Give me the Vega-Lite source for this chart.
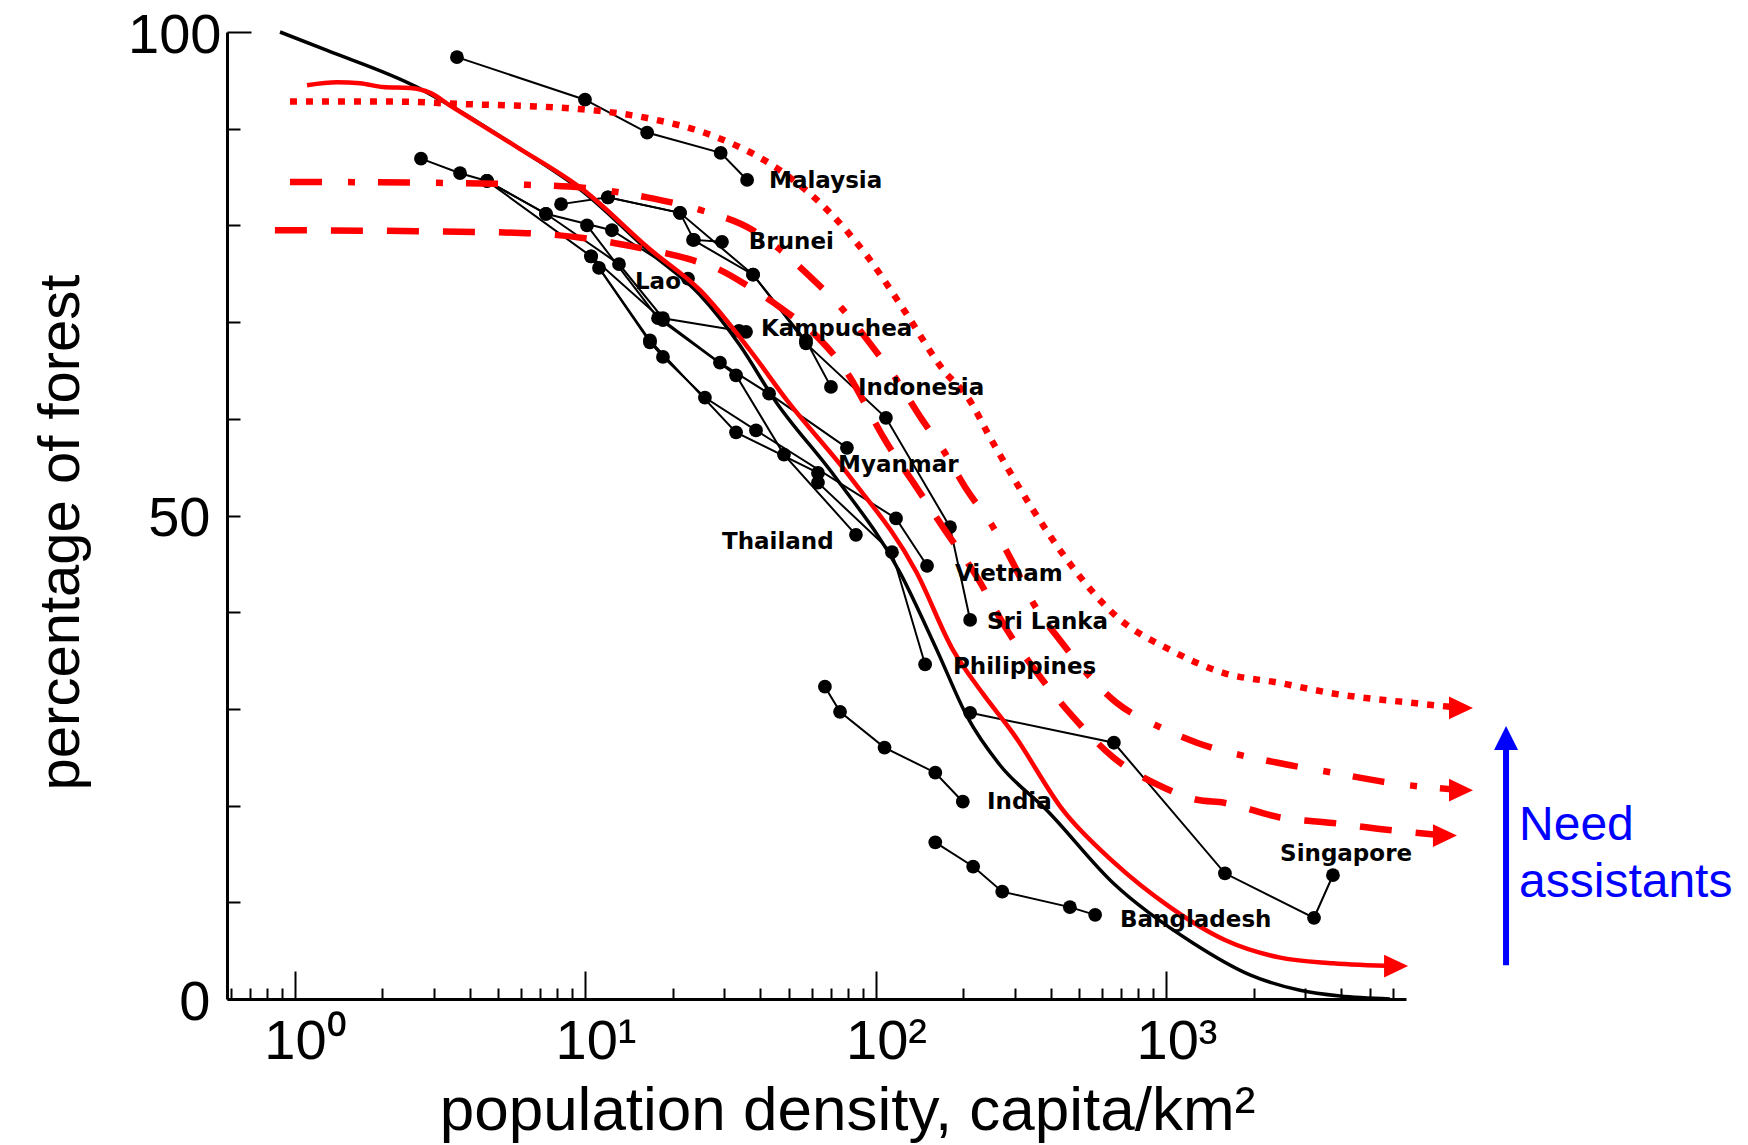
{
  "$schema": "https://vega.github.io/schema/vega-lite/v6.json",
  "width": 1179,
  "height": 967,
  "autosize": {"type": "none"},
  "padding": {"left": 227, "top": 32, "right": 342, "bottom": 146},
  "background": "white",
  "config": {"view": {"stroke": null}, "font": "Liberation Sans"},
  "datasets": {
    "theory": [
      {"x": 0.888, "y": 100.0}, {"x": 1.29, "y": 98.1}, {"x": 2.63, "y": 94.3}, {"x": 3.42, "y": 92.4},
      {"x": 5.81, "y": 88.1}, {"x": 9.8, "y": 83.5}, {"x": 16.7, "y": 77.2}, {"x": 24.8, "y": 72.8},
      {"x": 34.0, "y": 67.6}, {"x": 44.9, "y": 61.9}, {"x": 72.3, "y": 54.0}, {"x": 121, "y": 44.1},
      {"x": 162, "y": 36.1}, {"x": 206, "y": 29.2}, {"x": 267, "y": 24.2}, {"x": 388, "y": 19.5},
      {"x": 655, "y": 12.0}, {"x": 1233, "y": 5.8}, {"x": 1938, "y": 2.5}, {"x": 2882, "y": 0.9},
      {"x": 3954, "y": 0.3}, {"x": 5878, "y": 0}
    ],
    "redsolid": [
      {"x": 1.1, "y": 94.5}, {"x": 1.395, "y": 94.8}, {"x": 1.674, "y": 94.7}, {"x": 2.01, "y": 94.3},
      {"x": 2.49, "y": 94.2}, {"x": 2.92, "y": 93.7}, {"x": 3.42, "y": 92.4}, {"x": 5.81, "y": 88.1},
      {"x": 9.8, "y": 83.7}, {"x": 16.7, "y": 77.5}, {"x": 24.8, "y": 73.3}, {"x": 36.8, "y": 67.1},
      {"x": 49.4, "y": 61.9}, {"x": 81.4, "y": 54.0}, {"x": 138, "y": 44.1}, {"x": 184, "y": 36.1},
      {"x": 233, "y": 31.6}, {"x": 296, "y": 27.5}, {"x": 441, "y": 19.5}, {"x": 655, "y": 14.2},
      {"x": 1028, "y": 9.5}, {"x": 1589, "y": 6.1}, {"x": 2438, "y": 4.3}, {"x": 3741, "y": 3.7},
      {"x": 6170, "y": 3.4}
    ],
    "dotted": [
      {"x": 0.961, "y": 92.8}, {"x": 2.3, "y": 92.8}, {"x": 3.42, "y": 92.6}, {"x": 9.8, "y": 92.0},
      {"x": 16.3, "y": 91.1}, {"x": 28.4, "y": 89.1}, {"x": 46.7, "y": 85.7}, {"x": 69.5, "y": 81.3},
      {"x": 93.9, "y": 76.7}, {"x": 127, "y": 70.9}, {"x": 171, "y": 65.0}, {"x": 206, "y": 62.3},
      {"x": 253, "y": 57.5}, {"x": 347, "y": 50.6}, {"x": 455, "y": 45.4}, {"x": 676, "y": 39.5},
      {"x": 1029, "y": 36.1}, {"x": 1578, "y": 33.7}, {"x": 2440, "y": 32.7}, {"x": 3741, "y": 31.6},
      {"x": 7115, "y": 30.6}, {"x": 10320, "y": 30.1}
    ],
    "dashdot": [
      {"x": 0.961, "y": 84.5}, {"x": 3.08, "y": 84.4}, {"x": 6.29, "y": 84.2}, {"x": 9.8, "y": 83.9},
      {"x": 16.3, "y": 82.9}, {"x": 24.8, "y": 81.6}, {"x": 37.7, "y": 79.5}, {"x": 46.7, "y": 77.5},
      {"x": 59.3, "y": 74.7}, {"x": 76.9, "y": 71.3}, {"x": 95.3, "y": 67.8}, {"x": 118, "y": 64.0},
      {"x": 142, "y": 60.2}, {"x": 170, "y": 56.8}, {"x": 206, "y": 52.6}, {"x": 253, "y": 48.8},
      {"x": 296, "y": 45.1}, {"x": 347, "y": 41.0}, {"x": 430, "y": 37.1}, {"x": 676, "y": 30.6},
      {"x": 950, "y": 28.1}, {"x": 1273, "y": 26.5}, {"x": 2440, "y": 24.4}, {"x": 3741, "y": 23.4},
      {"x": 5741, "y": 22.4}, {"x": 10320, "y": 21.6}
    ],
    "dashed": [
      {"x": 0.853, "y": 79.5}, {"x": 2.63, "y": 79.4}, {"x": 6.29, "y": 79.2}, {"x": 9.8, "y": 78.7},
      {"x": 14.6, "y": 77.8}, {"x": 23.4, "y": 76.4}, {"x": 29.0, "y": 75.4}, {"x": 36.8, "y": 73.6},
      {"x": 47.9, "y": 71.3}, {"x": 62.7, "y": 68.5}, {"x": 81.4, "y": 64.3}, {"x": 95.3, "y": 60.6},
      {"x": 106, "y": 58.1}, {"x": 138, "y": 52.9}, {"x": 170, "y": 48.8}, {"x": 223, "y": 43.6},
      {"x": 282, "y": 38.2}, {"x": 353, "y": 34.0}, {"x": 476, "y": 29.2}, {"x": 655, "y": 25.0},
      {"x": 973, "y": 21.9}, {"x": 1273, "y": 20.6}, {"x": 1578, "y": 20.3}, {"x": 2440, "y": 18.8},
      {"x": 3741, "y": 18.2}, {"x": 5741, "y": 17.5}, {"x": 9090, "y": 16.9}
    ],
    "heads": [
      {"x": 10320, "y": 30.1}, {"x": 10320, "y": 21.6}, {"x": 9090, "y": 16.9}, {"x": 6170, "y": 3.4}
    ],
    "countries": [
      {"c": "Malaysia", "i": 0, "x": 3.61, "y": 97.4}, {"c": "Malaysia", "i": 1, "x": 9.96, "y": 93.0},
      {"c": "Malaysia", "i": 2, "x": 16.3, "y": 89.6}, {"c": "Malaysia", "i": 3, "x": 29.2, "y": 87.5},
      {"c": "Malaysia", "i": 4, "x": 36.0, "y": 84.7},
      {"c": "Laos", "i": 0, "x": 2.715, "y": 86.9}, {"c": "Laos", "i": 1, "x": 3.7, "y": 85.4},
      {"c": "Laos", "i": 2, "x": 4.58, "y": 84.6}, {"c": "Laos", "i": 3, "x": 7.31, "y": 81.2},
      {"c": "Laos", "i": 4, "x": 12.33, "y": 79.5}, {"c": "Laos", "i": 5, "x": 22.53, "y": 74.5},
      {"c": "Brunei", "i": 0, "x": 8.24, "y": 82.2}, {"c": "Brunei", "i": 1, "x": 11.95, "y": 82.9},
      {"c": "Brunei", "i": 2, "x": 21.15, "y": 81.3}, {"c": "Brunei", "i": 3, "x": 23.62, "y": 78.5},
      {"c": "Brunei", "i": 4, "x": 29.5, "y": 78.3},
      {"c": "Kampuchea", "i": 0, "x": 4.58, "y": 84.6}, {"c": "Kampuchea", "i": 1, "x": 7.31, "y": 81.2},
      {"c": "Kampuchea", "i": 2, "x": 13.04, "y": 76.0}, {"c": "Kampuchea", "i": 3, "x": 18.48, "y": 70.4},
      {"c": "Kampuchea", "i": 4, "x": 33.75, "y": 69.1}, {"c": "Kampuchea", "i": 5, "x": 35.7, "y": 69.0},
      {"c": "Indonesia", "i": 0, "x": 11.95, "y": 82.9}, {"c": "Indonesia", "i": 1, "x": 21.15, "y": 81.3},
      {"c": "Indonesia", "i": 2, "x": 37.74, "y": 74.9}, {"c": "Indonesia", "i": 3, "x": 57.41, "y": 68.1},
      {"c": "Indonesia", "i": 4, "x": 69.98, "y": 63.3},
      {"c": "Sri Lanka", "i": 0, "x": 23.45, "y": 78.5}, {"c": "Sri Lanka", "i": 1, "x": 37.74, "y": 74.9},
      {"c": "Sri Lanka", "i": 2, "x": 57.41, "y": 67.8}, {"c": "Sri Lanka", "i": 3, "x": 108.2, "y": 60.1},
      {"c": "Sri Lanka", "i": 4, "x": 179.8, "y": 48.8}, {"c": "Sri Lanka", "i": 5, "x": 210.9, "y": 39.2},
      {"c": "Myanmar", "i": 0, "x": 4.58, "y": 84.6}, {"c": "Myanmar", "i": 1, "x": 10.45, "y": 76.8},
      {"c": "Myanmar", "i": 2, "x": 18.48, "y": 70.2}, {"c": "Myanmar", "i": 3, "x": 29.03, "y": 65.8},
      {"c": "Myanmar", "i": 4, "x": 42.85, "y": 62.6}, {"c": "Myanmar", "i": 5, "x": 79.43, "y": 57.0},
      {"c": "Vietnam", "i": 0, "x": 11.13, "y": 75.6}, {"c": "Vietnam", "i": 1, "x": 16.67, "y": 67.9},
      {"c": "Vietnam", "i": 2, "x": 18.48, "y": 66.4}, {"c": "Vietnam", "i": 3, "x": 25.77, "y": 62.2},
      {"c": "Vietnam", "i": 4, "x": 38.63, "y": 58.8}, {"c": "Vietnam", "i": 5, "x": 117.2, "y": 49.7},
      {"c": "Vietnam", "i": 6, "x": 149.9, "y": 44.8},
      {"c": "Thailand", "i": 0, "x": 10.12, "y": 80.0}, {"c": "Thailand", "i": 1, "x": 17.77, "y": 70.4},
      {"c": "Thailand", "i": 2, "x": 32.98, "y": 64.5}, {"c": "Thailand", "i": 3, "x": 48.22, "y": 56.3},
      {"c": "Thailand", "i": 4, "x": 85.31, "y": 48.0},
      {"c": "Philippines", "i": 0, "x": 10.45, "y": 76.8}, {"c": "Philippines", "i": 1, "x": 16.67, "y": 68.1},
      {"c": "Philippines", "i": 2, "x": 32.98, "y": 58.6}, {"c": "Philippines", "i": 3, "x": 63.14, "y": 54.4},
      {"c": "Philippines", "i": 4, "x": 63.14, "y": 53.4}, {"c": "Philippines", "i": 5, "x": 113.5, "y": 46.2},
      {"c": "Philippines", "i": 6, "x": 147.6, "y": 34.6},
      {"c": "Singapore", "i": 0, "x": 210.9, "y": 29.6}, {"c": "Singapore", "i": 1, "x": 659, "y": 26.5},
      {"c": "Singapore", "i": 2, "x": 1589, "y": 13.0}, {"c": "Singapore", "i": 3, "x": 3220, "y": 8.4},
      {"c": "Singapore", "i": 4, "x": 3741, "y": 12.8},
      {"c": "India", "i": 0, "x": 66.7, "y": 32.3}, {"c": "India", "i": 1, "x": 75.2, "y": 29.7},
      {"c": "India", "i": 2, "x": 107, "y": 26.0}, {"c": "India", "i": 3, "x": 160, "y": 23.4},
      {"c": "India", "i": 4, "x": 199, "y": 20.4},
      {"c": "Bangladesh", "i": 0, "x": 160, "y": 16.2}, {"c": "Bangladesh", "i": 1, "x": 216, "y": 13.7},
      {"c": "Bangladesh", "i": 2, "x": 272, "y": 11.1}, {"c": "Bangladesh", "i": 3, "x": 465, "y": 9.5},
      {"c": "Bangladesh", "i": 4, "x": 568, "y": 8.7}
    ],
    "labels": [
      {"t": "Malaysia", "x": 42.85, "y": 84.6}, {"t": "Brunei", "x": 36.5, "y": 78.3},
      {"t": "Lao", "x": 14.8, "y": 74.1}, {"t": "Kampuchea", "x": 40.2, "y": 69.3},
      {"t": "Indonesia", "x": 86.7, "y": 63.2}, {"t": "Myanmar", "x": 74.0, "y": 55.2},
      {"t": "Thailand", "x": 29.5, "y": 47.3}, {"t": "Vietnam", "x": 187, "y": 43.9},
      {"t": "Sri Lanka", "x": 241, "y": 39.0}, {"t": "Philippines", "x": 184, "y": 34.3},
      {"t": "India", "x": 241, "y": 20.4}, {"t": "Bangladesh", "x": 692, "y": 8.2},
      {"t": "Singapore", "x": 2460, "y": 15.0}
    ],
    "bluerule": [{"x": 14750, "y": 3.5, "y2": 26.3}],
    "bluehead": [{"x": 14750, "y": 27.0}],
    "bluetext": [{"t": "Need", "x": 16350, "y": 16.44}, {"t": "assistants", "x": 16350, "y": 10.55}]
  },
  "layer": [
    {
      "data": {"name": "theory"},
      "mark": {"type": "line", "color": "black", "strokeWidth": 3.5, "interpolate": "monotone"},
      "encoding": {
        "x": {
          "field": "x", "type": "quantitative",
          "scale": {"type": "log", "domain": [0.5834, 6675], "nice": false},
          "axis": {
            "title": "population density, capita/km²",
            "values": [0.6, 0.7, 0.8, 0.9, 1, 2, 3, 4, 5, 6, 7, 8, 9, 10, 20, 30, 40, 50, 60, 70, 80, 90, 100, 200, 300, 400, 500, 600, 700, 800, 900, 1000, 2000, 3000, 4000, 5000, 6000],
            "labelExpr": "datum.value==1?'10⁰':datum.value==10?'10¹':datum.value==100?'10²':datum.value==1000?'10³':''",
            "labelFont": "Liberation Sans", "labelFontSize": 56, "labelColor": "black",
            "labelBaseline": "alphabetic", "labelPadding": 87, "labelOffset": 10,
            "labelFlush": false, "labelOverlap": false, "labelBound": false,
            "tickColor": "black", "tickWidth": 2,
            "tickSize": {"condition": {"test": "datum.value==1||datum.value==10||datum.value==100||datum.value==1000", "value": -28}, "value": -11},
            "domainColor": "black", "domainWidth": 3, "grid": false,
            "titleFont": "Liberation Sans", "titleFontSize": 62, "titleFontWeight": "normal", "titleColor": "black",
            "titleX": 620, "titleY": 130, "titleBaseline": "alphabetic", "titleAlign": "center"
          }
        },
        "y": {
          "field": "y", "type": "quantitative",
          "scale": {"domain": [0, 100], "nice": false, "zero": false},
          "axis": {
            "title": "percentage of forest",
            "values": [0, 10, 20, 30, 40, 50, 60, 70, 80, 90, 100],
            "labelExpr": "datum.value % 50 == 0 ? datum.label : ''",
            "labelFont": "Liberation Sans", "labelFontSize": 56, "labelColor": "black",
            "labelBaseline": "middle", "labelPadding": 30, "labelOffset": 3,
            "labelFlush": false, "labelOverlap": false, "labelBound": false,
            "tickColor": "black", "tickWidth": 2,
            "tickSize": {"condition": {"test": "datum.value==100", "value": -24}, "value": -13},
            "domainColor": "black", "domainWidth": 3, "grid": false,
            "titleFont": "Liberation Sans", "titleFontSize": 58, "titleFontWeight": "normal", "titleColor": "black",
            "titleX": -166, "titleY": 500, "titleBaseline": "middle", "titleAlign": "center", "titleAngle": -90
          }
        }
      }
    },
    {
      "data": {"name": "countries"},
      "mark": {"type": "line", "color": "black", "strokeWidth": 2},
      "encoding": {
        "x": {"field": "x", "type": "quantitative"},
        "y": {"field": "y", "type": "quantitative"},
        "detail": {"field": "c"},
        "order": {"field": "i"}
      }
    },
    {
      "data": {"name": "countries"},
      "mark": {"type": "point", "filled": true, "color": "black", "size": 190, "opacity": 1},
      "encoding": {
        "x": {"field": "x", "type": "quantitative"},
        "y": {"field": "y", "type": "quantitative"}
      }
    },
    {
      "data": {"name": "redsolid"},
      "mark": {"type": "line", "color": "#ff0000", "strokeWidth": 4.5, "interpolate": "monotone"},
      "encoding": {"x": {"field": "x", "type": "quantitative"}, "y": {"field": "y", "type": "quantitative"}}
    },
    {
      "data": {"name": "dotted"},
      "mark": {"type": "line", "color": "#ff0000", "strokeWidth": 6.5, "strokeDash": [7, 9], "strokeCap": "butt", "interpolate": "monotone"},
      "encoding": {"x": {"field": "x", "type": "quantitative"}, "y": {"field": "y", "type": "quantitative"}}
    },
    {
      "data": {"name": "dashdot"},
      "mark": {"type": "line", "color": "#ff0000", "strokeWidth": 6.5, "strokeDash": [32, 26, 7, 23], "strokeCap": "butt", "interpolate": "monotone"},
      "encoding": {"x": {"field": "x", "type": "quantitative"}, "y": {"field": "y", "type": "quantitative"}}
    },
    {
      "data": {"name": "dashed"},
      "mark": {"type": "line", "color": "#ff0000", "strokeWidth": 6.5, "strokeDash": [32, 24], "strokeCap": "butt", "interpolate": "monotone"},
      "encoding": {"x": {"field": "x", "type": "quantitative"}, "y": {"field": "y", "type": "quantitative"}}
    },
    {
      "data": {"name": "heads"},
      "mark": {"type": "point", "filled": true, "color": "#ff0000", "opacity": 1, "shape": "M-1,-0.95L1,0L-1,0.95Z", "size": 576},
      "encoding": {"x": {"field": "x", "type": "quantitative"}, "y": {"field": "y", "type": "quantitative"}}
    },
    {
      "data": {"name": "labels"},
      "mark": {"type": "text", "font": "DejaVu Sans", "fontWeight": "bold", "fontSize": 23, "align": "left", "baseline": "middle", "color": "black"},
      "encoding": {
        "x": {"field": "x", "type": "quantitative"},
        "y": {"field": "y", "type": "quantitative"},
        "text": {"field": "t"}
      }
    },
    {
      "data": {"name": "bluerule"},
      "mark": {"type": "rule", "color": "#0000ff", "strokeWidth": 6},
      "encoding": {
        "x": {"field": "x", "type": "quantitative"},
        "y": {"field": "y", "type": "quantitative"},
        "y2": {"field": "y2"}
      }
    },
    {
      "data": {"name": "bluehead"},
      "mark": {"type": "point", "filled": true, "color": "#0000ff", "opacity": 1, "shape": "M-1,1L0,-1L1,1Z", "size": 576},
      "encoding": {"x": {"field": "x", "type": "quantitative"}, "y": {"field": "y", "type": "quantitative"}}
    },
    {
      "data": {"name": "bluetext"},
      "mark": {"type": "text", "font": "Liberation Sans", "fontSize": 48, "align": "left", "baseline": "alphabetic", "color": "#0000ff"},
      "encoding": {
        "x": {"field": "x", "type": "quantitative"},
        "y": {"field": "y", "type": "quantitative"},
        "text": {"field": "t"}
      }
    }
  ]
}
